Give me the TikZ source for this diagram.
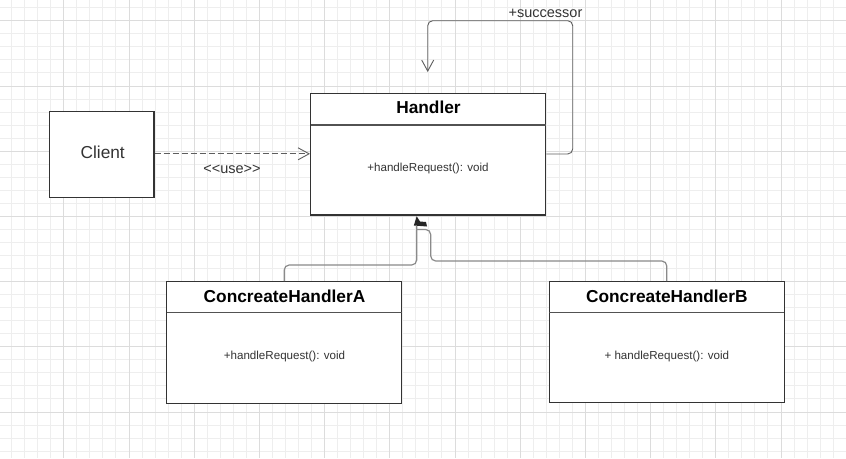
\documentclass[tikz,border=0pt]{standalone}
\usepackage{fontspec}
\setmainfont{Liberation Sans}
\usetikzlibrary{arrows.meta}
\definecolor{gminor}{HTML}{EEEEEE}
\definecolor{gmajor}{HTML}{DCDCDC}
\definecolor{ink}{HTML}{333333}
\definecolor{wire}{HTML}{5E5E5E}
\definecolor{wirelight}{HTML}{8A8A8A}
\tikzset{
  gridminor/.style={draw=gminor, line width=0.8pt},
  gridmajor/.style={draw=gmajor, line width=0.8pt},
  umlbox/.style={draw=ink, line width=1.4pt, fill=white, inner sep=0pt, rectangle},
  divider/.style={draw=ink!85, line width=1.2pt},
  titletext/.style={font=\fontsize{17.3}{20}\selectfont\bfseries, text=black, inner sep=0pt},
  methodtext/.style={font=\fontsize{11.6}{14}\selectfont, text=ink, inner sep=0pt},
  clienttext/.style={font=\fontsize{17.3}{20}\selectfont, text=ink, inner sep=0pt},
  labeltext/.style={font=\fontsize{14.5}{17}\selectfont, text=ink, inner sep=0pt},
  wireline/.style={draw=wire, line width=0.9pt, rounded corners=5pt},
  inherit/.style={draw=wirelight, line width=1.2pt, rounded corners=5pt},
  openarrow/.style={-{Straight Barb[length=11pt,width=12pt,line width=0.9pt]}},
}
\begin{document}
\begin{tikzpicture}[x=1pt,y=-1pt]
\useasboundingbox (0,0) rectangle (846,458);
\fill[white] (0,0) rectangle (846,458);
% grid
\foreach \i in {0,...,65} {\draw[gridminor] ({-1.5+13.04*\i},0) -- ({-1.5+13.04*\i},458);}
\foreach \j in {0,...,36} {\draw[gridminor] (0,{-5.38+13.04*\j}) -- (846,{-5.38+13.04*\j});}
\foreach \i in {-1,...,12} {\draw[gridmajor] ({63.7+65.2*\i},0) -- ({63.7+65.2*\i},458);}
\foreach \j in {0,...,6} {\draw[gridmajor] (0,{20.7+65.2*\j}) -- (846,{20.7+65.2*\j});}

% boxes
\node[umlbox, minimum width=104.7pt, minimum height=85.6pt] (client) at (101.65,154.5) {};
\node[clienttext] (clientlbl) at (102.7,152.3) {Client};

\node[umlbox, minimum width=235pt, minimum height=121.7pt] (handler) at (428.2,154.15) {};
\draw[divider] (310.7,125) -- (545.7,125);
\node[titletext] (handlerttl) at (428.5,107.3) {Handler};
\node[methodtext] (handlerm) at (428,168.3) {+handleRequest(): void};

\node[umlbox, minimum width=235pt, minimum height=121.6pt] (ca) at (284.2,342.5) {};
\draw[divider] (166.7,312.7) -- (401.7,312.7);
\node[titletext] (cattl) at (284.5,296.5) {ConcreateHandlerA};
\node[methodtext] (cam) at (284.5,356.7) {+handleRequest(): void};

\node[umlbox, minimum width=235pt, minimum height=121pt] (cb) at (666.8,342.2) {};
\draw[divider] (549.3,312.7) -- (784.3,312.7);
\node[titletext] (cbttl) at (666.8,296.5) {ConcreateHandlerB};
\node[methodtext] (cbm) at (666.8,356.7) {+ handleRequest(): void};

% dependency
\draw[wireline, dash pattern=on 6pt off 3pt, openarrow] (client.east |- 0,153.8) -- (handler.west |- 0,153.8);
\node[labeltext] (uselbl) at (232,169.3) {<\kern0pt<use>\kern0pt>};

% successor self association
\coordinate (s1) at (572.7,154);
\coordinate (s2) at (572.7,20.7);
\coordinate (s3) at (427.7,20.7);
\coordinate (s4) at (427.7,72);
\draw[wireline, openarrow] (handler.east |- s1) -- (s1) -- (s2) -- (s3) -- (s4);
\node[labeltext] (succlbl) at (545.5,13.3) {+successor};

% generalisation
\coordinate (ja) at (416.7,265);
\coordinate (jb) at (430.7,261);
\coordinate (tipa) at (416.7,226);
\coordinate (tipb) at (417,229.5);
\draw[inherit] (ca.north) -- (ca.north |- ja) -- (ja) -- (tipa);
\draw[inherit] (cb.north) -- (cb.north |- jb) -- (jb) -- (430.7,229.5) -- (tipb);
\fill[black!85] (416.7,216.3) -- (413.8,225.5) -- (427,226.5) -- (426,222) -- (420,221.5) -- cycle;
\end{tikzpicture}
\end{document}
